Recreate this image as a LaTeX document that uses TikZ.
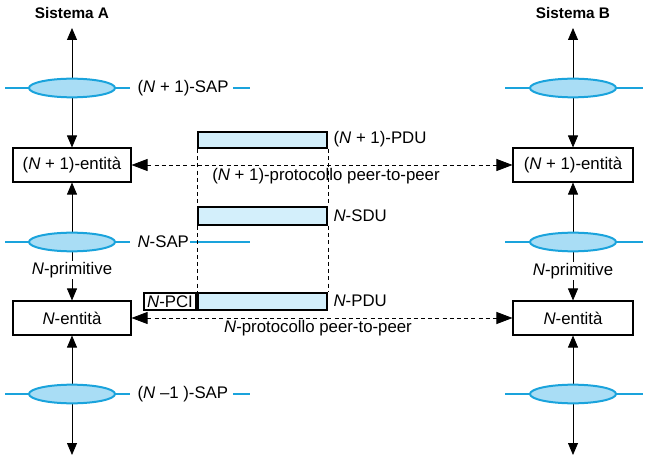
\documentclass[tikz,border=0pt]{standalone}
\usepackage{fontspec}
\setmainfont{Liberation Sans}
\usepackage{tikz}
\usetikzlibrary{arrows,arrows.meta,shapes,positioning,calc}

\definecolor{sapblue}{HTML}{1AA3DC}
\definecolor{sapfill}{HTML}{A9DDF5}
\definecolor{pdufill}{HTML}{D3EFFB}

\tikzset{
  entita/.style={draw,line width=0.8pt,fill=white,minimum width=88.5pt,minimum height=25.5pt,inner sep=0pt},
  sap/.style={ellipse,draw=sapblue,line width=1.5pt,fill=sapfill,minimum width=64.5pt,minimum height=14pt,inner sep=0pt},
  sapline/.style={draw=sapblue,line width=1.5pt},
  pdu/.style={draw,line width=1.5pt,fill=pdufill,minimum width=96.75pt,inner sep=0pt},
  link/.style={line width=0.6pt,{Triangle[length=9pt,width=7.5pt]}-{Triangle[length=9pt,width=7.5pt]}},
  peer/.style={line width=0.6pt,dash pattern=on 3pt off 2.4pt,{Triangle[length=12pt,width=9pt]}-{Triangle[length=12pt,width=9pt]}},
  lbl/.style={inner sep=1pt}
}

\begin{document}
\begin{tikzpicture}[x=0.75pt,y=-0.75pt,font=\fontsize{12.6}{14}\selectfont]
  \useasboundingbox (0,0) rectangle (645,459);

  % sistemi
  \node[font=\fontsize{11.5}{13}\selectfont\bfseries] (sysA) at (72,13) {Sistema A};
  \node[font=\fontsize{11.5}{13}\selectfont\bfseries] (sysB) at (573,13) {Sistema B};

  % linee dei SAP
  \draw[sapline] (5,88) -- (130,88);
  \draw[sapline] (5,242) -- (130,242);
  \draw[sapline] (5,394) -- (130,394);
  \draw[sapline] (505,88) -- (643,88);
  \draw[sapline] (505,242) -- (643,242);
  \draw[sapline] (505,394) -- (643,394);
  \draw[sapline] (233,88) -- (250,88);
  \draw[sapline] (190,242) -- (250,242);
  \draw[sapline] (233,394) -- (250,394);

  % entita
  \node[entita] (entA1) at (72,165) {(\textit{N} + 1)-entità};
  \node[entita] (entA0) at (72,318) {\textit{N}-entità};
  \node[entita,minimum width=90pt] (entB1) at (573,165) {(\textit{N} + 1)-entità};
  \node[entita,minimum width=90pt] (entB0) at (573,318) {\textit{N}-entità};

  \coordinate (topA) at (72,28);
  \coordinate (botA) at (72,455);
  \coordinate (topB) at (573,28);
  \coordinate (botB) at (573,455);

  % frecce verticali
  \draw[link] (topA) -- (entA1.north);
  \draw[link] (entA1.south) -- (entA0.north);
  \draw[link] (entA0.south) -- (botA);
  \draw[link] (topB) -- (entB1.north);
  \draw[link] (entB1.south) -- (entB0.north);
  \draw[link] (entB0.south) -- (botB);

  % SAP
  \node[sap] (sapA2) at (72,88) {};
  \node[sap] (sapA1) at (72,242) {};
  \node[sap] (sapA0) at (72,394) {};
  \node[sap] (sapB2) at (573,88) {};
  \node[sap] (sapB1) at (573,242) {};
  \node[sap] (sapB0) at (573,394) {};

  \node[lbl,anchor=west,fill=white] (lsap2) at (136,88) {(\textit{N} + 1)-SAP};
  \node[lbl,anchor=west,fill=white] (lsap1) at (136,242) {\textit{N}-SAP};
  \node[lbl,anchor=west,fill=white] (lsap0) at (136,394) {(\textit{N} --1 )-SAP};

  \node[lbl,fill=white] (primA) at (72,270) {\textit{N}-primitive};
  \node[lbl,fill=white] (primB) at (573,271) {\textit{N}-primitive};

  % PDU
  \node[pdu,minimum height=12pt] (pdu1) at (262.5,140) {};
  \node[pdu,minimum height=13.5pt] (sdu) at (262.5,216) {};
  \node[pdu,minimum height=12.75pt] (pdu0) at (262.5,301.5) {};
  \node[draw,line width=1.5pt,fill=white,minimum width=39pt,minimum height=12.75pt,inner sep=0pt,anchor=east]
    (pci) at (pdu0.west) {\textit{N}-PCI};

  \draw[line width=0.6pt,dash pattern=on 3pt off 2.4pt] (pdu1.south west) -- (sdu.north west);
  \draw[line width=0.6pt,dash pattern=on 3pt off 2.4pt] (pdu1.south east) -- (sdu.north east);
  \draw[line width=0.6pt,dash pattern=on 3pt off 2.4pt] (sdu.south west) -- (pdu0.north west);
  \draw[line width=0.6pt,dash pattern=on 3pt off 2.4pt] (sdu.south east) -- (pdu0.north east);

  \node[lbl,anchor=west] (lpdu1) at (332,139) {(\textit{N} + 1)-PDU};
  \node[lbl,anchor=west] (lsdu) at (332,216) {\textit{N}-SDU};
  \node[lbl,anchor=west] (lpdu0) at (332,301) {\textit{N}-PDU};

  % protocolli peer-to-peer
  \draw[peer] (entA1.east) -- (entB1.west);
  \draw[peer] (entA0.east) -- (entB0.west);
  \node[lbl] (prot1) at (326,176) {(\textit{N} + 1)-protocollo peer-to-peer};
  \node[lbl] (prot0) at (318,328) {\textit{N}-protocollo peer-to-peer};
\end{tikzpicture}
\end{document}
